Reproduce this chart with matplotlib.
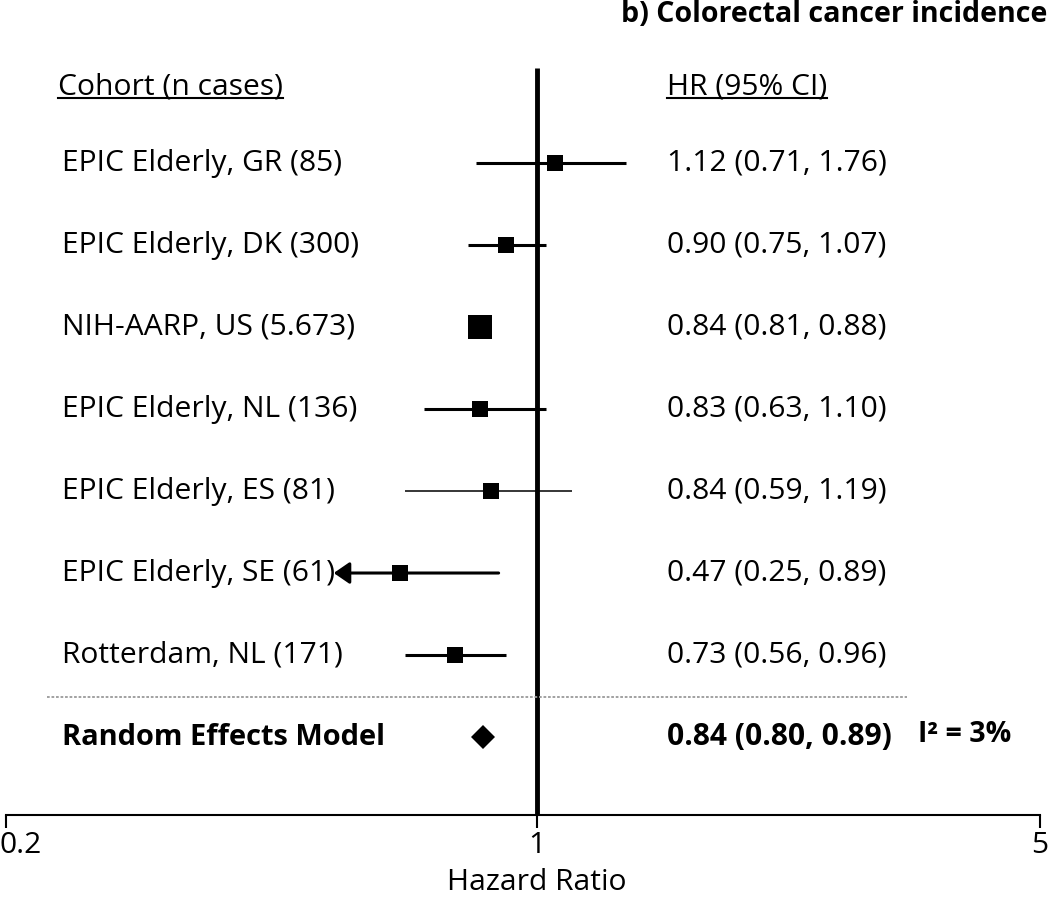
import numpy as np
import matplotlib
matplotlib.use('Agg')
import matplotlib.pyplot as plt
import matplotlib.transforms as mtransforms

plt.rcParams['font.family'] = ['Open Sans', 'DejaVu Sans']
plt.rcParams['font.size'] = 21.6

# text columns of the forest plot
cohorts = ['EPIC Elderly, GR (85)', 'EPIC Elderly, DK (300)', 'NIH-AARP, US (5.673)',
           'EPIC Elderly, NL (136)', 'EPIC Elderly, ES (81)', 'EPIC Elderly, SE (61)',
           'Rotterdam, NL (171)']
hr_labels = ['1.12 (0.71, 1.76)', '0.90 (0.75, 1.07)', '0.84 (0.81, 0.88)',
             '0.83 (0.63, 1.10)', '0.84 (0.59, 1.19)', '0.47 (0.25, 0.89)',
             '0.73 (0.56, 0.96)']
summary_label = 'Random Effects Model'
summary_hr_label = '0.84 (0.80, 0.89)'
heterogeneity = 'I\u00b2 = 3%'

# boxes and whiskers as they are drawn on the hazard ratio axis
box_hr = [1.06, 0.91, 0.84, 0.84, 0.87, 0.66, 0.78]
ci_low = [0.83, 0.81, 0.82, 0.71, 0.67, 0.54, 0.67]
ci_high = [1.33, 1.03, 0.86, 1.03, 1.12, 0.89, 0.91]
truncated = [False, False, False, False, False, True, False]
summary_hr = 0.85

x_ticks = [0.2, 1, 5]
x_ticklabels = ['0.2', '1', '5']

# styles
box_size = [11, 11, 17.3, 11, 11, 11, 11]
ci_width = [2.2, 2.2, 2.2, 2.2, 1.1, 2.2, 2.2]

# the right half of the axis is drawn a bit shorter than the left half
LEFT, RIGHT = 1.0, 0.947
def fwd(x):
    lx = np.log(np.clip(x, 1e-6, None))
    return np.where(lx < 0, lx * LEFT, lx * RIGHT)
def inv(y):
    y = np.asarray(y, dtype=float)
    return np.exp(np.where(y < 0, y / LEFT, y / RIGHT))

fig = plt.figure(figsize=(10.5, 9), dpi=100)
ax = fig.add_axes([6/1050, 85/900, 1034/1050, 815/900])
ax.set_xscale('function', functions=(fwd, inv))
ax.set_xlim(0.2, 5)
ax.set_ylim(7.951, -1.988)

rows = np.arange(len(cohorts))
ty = mtransforms.blended_transform_factory(fig.transFigure, ax.transData)

# reference line at HR = 1
ax.plot([1, 1], [-1.16, 7.951], color='black', lw=3.5, solid_capstyle='butt', clip_on=False)

for i in rows:
    if truncated[i]:
        ax.annotate('', xy=(ci_low[i], i), xytext=(ci_high[i], i),
                    arrowprops=dict(arrowstyle='-|>,head_length=0.8,head_width=0.55',
                                    mutation_scale=12, lw=ci_width[i], color='black',
                                    shrinkA=0, shrinkB=0))
    else:
        ax.plot([ci_low[i], ci_high[i]], [i, i], color='black', lw=ci_width[i],
                solid_capstyle='butt')
    ax.plot(box_hr[i], i, marker='s', ms=box_size[i], mew=0, color='black')
    ax.text(62/1050, i, cohorts[i], transform=ty, ha='left', va='center')
    ax.text(667/1050, i, hr_labels[i], transform=ty, ha='left', va='center')

# pooled estimate
n = len(cohorts)
ax.plot(summary_hr, n, marker='D', ms=12.3, mew=0, color='black')
ax.text(62/1050, n, summary_label, transform=ty, ha='left', va='center', fontweight='bold',
        fontsize=20.9)
ax.text(667/1050, n, summary_hr_label, transform=ty, ha='left', va='center', fontweight='bold')
ax.text(918/1050, n - 0.03, heterogeneity, transform=ty, ha='left', va='center',
        fontweight='bold', fontsize=20.5)
ax.plot([47/1050, 907/1050], [n - 0.49, n - 0.49], transform=ty, color='#9a9a9a',
        lw=1.3, ls=(0, (1.5, 1)), clip_on=False)

# column headers
h1 = ax.text(58/1050, -0.93, 'Cohort (n cases)', transform=ty, ha='left', va='center')
h2 = ax.text(667/1050, -0.93, 'HR (95% CI)', transform=ty, ha='left', va='center')
fig.text(1047/1050, 1 - 14/900, 'b) Colorectal cancer incidence', ha='right', va='center',
         fontweight='bold', fontsize=20.6)

# axis
for s in ['top', 'left', 'right']:
    ax.spines[s].set_visible(False)
ax.spines['bottom'].set_linewidth(1.5)
ax.set_yticks([])
ax.set_xticks(x_ticks)
ax.set_xticklabels(x_ticklabels)
ax.minorticks_off()
ax.tick_params(axis='x', direction='out', length=9.5, width=1.5, labelsize=21.6, pad=2)
lab0 = ax.get_xticklabels()[0]
lab0.set_ha('left')
lab0.set_transform(lab0.get_transform() + mtransforms.ScaledTranslation(-6/100, 0, fig.dpi_scale_trans))
ax.text(1, 1 - 882/900, 'Hazard Ratio',
        transform=mtransforms.blended_transform_factory(ax.transData, fig.transFigure),
        ha='center', va='center')
ax.patch.set_visible(False)

# underline the headers
fig.canvas.draw()
for h in [h1, h2]:
    bb = h.get_window_extent().transformed(fig.transFigure.inverted())
    yline = bb.y0 + 3/900
    fig.add_artist(plt.Line2D([bb.x0, bb.x1], [yline, yline], transform=fig.transFigure,
                              color='black', lw=1.5))

fig.savefig('out.png', dpi=100)
